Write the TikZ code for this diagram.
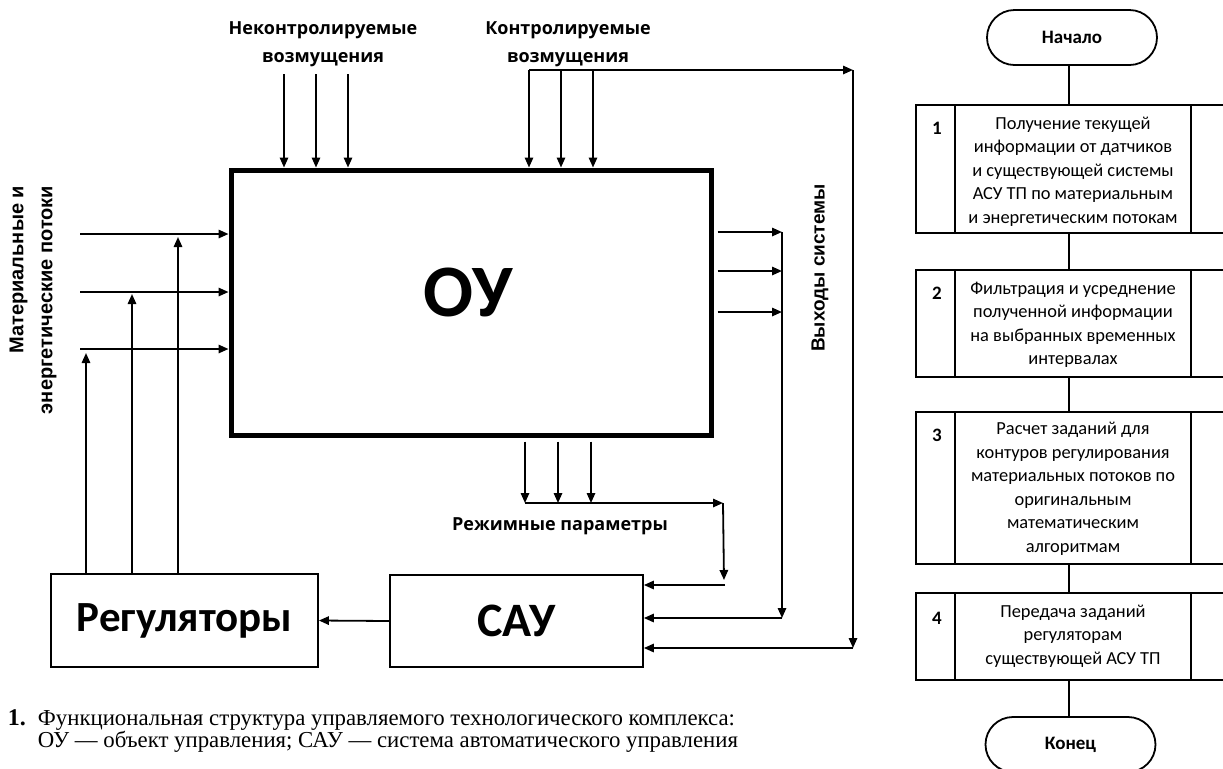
\documentclass[tikz,border=0pt]{standalone}
\usepackage{fontspec}
\setmainfont{Liberation Serif}
\newfontfamily\calf{Carlito}
\newfontfamily\osf{Open Sans}
\newfontfamily\arf{Liberation Sans}
\usetikzlibrary{arrows.meta,calc}
\begin{document}
\begin{tikzpicture}[x=0.5pt,y=-0.5pt,line width=0.9pt,
  arr/.style={-{Triangle[length=5pt,width=4.2pt]}},
  lbl/.style={font=\osf\bfseries\fontsize{9}{14}\selectfont, align=center, inner sep=0},
  oubox/.style={draw, line width=2.5pt, minimum width=240pt, minimum height=132.5pt, inner sep=0},
  blk/.style={draw, inner sep=0},
  term/.style={draw, rounded corners=13.75pt, minimum width=85pt, minimum height=27.5pt, inner sep=0, font=\calf\bfseries\fontsize{9.5}{11}\selectfont},
  fbox/.style={draw, minimum width=162pt, inner sep=0},
  ftext/.style={font=\calf\fontsize{9.2}{11.75}\selectfont, align=center, inner sep=0},
  num/.style={font=\calf\bfseries\fontsize{9.5}{11}\selectfont, inner sep=0}]
\clip (0,0) rectangle (1223,768);
\fill[white] (0,0) rectangle (1223,768);

% ---- main object ----
\node[oubox] (ou) at (471,302.5) {};
\node[font=\calf\bfseries\fontsize{37}{42}\selectfont, inner sep=0] (oulbl) at (468,292) {ОУ};
\node[blk, minimum width=126.5pt, minimum height=46pt, font=\calf\bfseries\fontsize{24}{28}\selectfont] (sau) at (516.5,621) {САУ};
\node[blk, minimum width=133.5pt, minimum height=46.5pt, font=\calf\bfseries\fontsize{21.5}{26}\selectfont] (reg) at (184.5,620.5) {Регуляторы};

% ---- labels ----
\node[lbl] (lnc) at (323,44) {Неконтролируемые\\возмущения};
\node[lbl] (lc) at (568,44) {Контролируемые\\возмущения};
\node[lbl] (lrp) at (560,526) {Режимные параметры};
\node[lbl, rotate=90, font=\arf\bfseries\fontsize{9.5}{12}\selectfont] (lvs) at (820,268) {Выходы системы};
\node[lbl, rotate=90, align=right, font=\arf\bfseries\fontsize{10}{14.5}\selectfont] (lmp) at (33,300) {Материальные и\\энергетические потоки};

% ---- uncontrolled disturbances ----
\foreach \x [count=\i] in {284,316,348} {
  \coordinate (nu\i) at (\x,74);
  \draw[arr] (nu\i) -- (nu\i |- ou.north);
}
% ---- controlled disturbances ----
\foreach \x [count=\i] in {529,561,593} {
  \coordinate (ku\i) at (\x,70);
  \draw[arr] (ku\i) -- (ku\i |- ou.north);
}
\coordinate (kr) at (853,70);
\coordinate (kd) at (853,648);
\draw[arr] (ku1) -- (kr);
\draw[arr] (kr) -- (kd);
\draw[arr] (kd) -- (kd -| sau.east);

% ---- system outputs ----
\foreach \y [count=\i] in {232,271,312} {
  \coordinate (vo\i) at (782,\y);
  \draw[arr] ($(ou.east |- vo\i)+(4,0)$) -- (vo\i);
}
\coordinate (vd) at (782,618);
\draw[arr] (vo1) -- (vd);
\draw[arr] (vd) -- (vd -| sau.east);

% ---- mode parameters ----
\foreach \x [count=\i] in {525,558,591} {
  \coordinate (rp\i) at (\x,503);
  \draw[arr] ($(rp\i |- ou.south)+(0,4)$) -- (rp\i);
}
\coordinate (rr) at (723,503);
\coordinate (rd) at (724,580);
\coordinate (rs) at (725,585);
\draw[arr] (rp1) -- (rr);
\draw[arr] (rr) -- (rd);
\draw[arr] (rs) -- (rs -| sau.east);

% ---- material and energy flows ----
\foreach \y [count=\i] in {234,292,349} {
  \coordinate (mi\i) at (80,\y);
  \draw[arr] (mi\i) -- (mi\i -| ou.west);
}
\foreach \x/\t [count=\i] in {86/353,132/294,178/237} {
  \coordinate (ra\i) at (\x,\t);
  \draw[arr] (ra\i |- reg.north) -- (ra\i);
}
\draw[arr] (sau.west) -- (reg.east);

% ---- flowchart ----
\node[term] (start) at (1072,37.5) {Начало};
\node[fbox, minimum height=64pt] (b1) at (1078,169) {};
\node[fbox, minimum height=53.5pt] (b2) at (1078,323.5) {};
\node[fbox, minimum height=76pt] (b3) at (1078,488) {};
\node[fbox, minimum height=43.5pt] (b4) at (1078,636.5) {};
\node[term] (end) at (1070.5,744.5) {Конец};
\coordinate (d1) at (955,0);
\coordinate (d2) at (1191,0);
\coordinate (fl) at (1069,0);
\foreach \b in {b1,b2,b3,b4} {
  \draw (\b.north -| d1) -- (\b.south -| d1);
  \draw (\b.north -| d2) -- (\b.south -| d2);
}
\draw (start.south -| fl) -- (b1.north -| fl);
\draw (b1.south -| fl) -- (b2.north -| fl);
\draw (b2.south -| fl) -- (b3.north -| fl);
\draw (b3.south -| fl) -- (b4.north -| fl);
\draw (b4.south -| fl) -- (end.north -| fl);

\node[num] (n1) at (937,128) {1};
\node[num] (n2) at (937,293) {2};
\node[num] (n3) at (937,435) {3};
\node[num] (n4) at (937,618) {4};
\node[ftext] (t1) at (1073,171.5) {Получение текущей\\информации от датчиков\\и существующей системы\\АСУ ТП по материальным\\и энергетическим потокам};
\node[ftext] (t2) at (1073,325) {Фильтрация и усреднение\\полученной информации\\на выбранных временных\\интервалах};
\node[ftext] (t3) at (1073,489) {Расчет заданий для\\контуров регулирования\\материальных потоков по\\оригинальным\\математическим\\алгоритмам};
\node[ftext] (t4) at (1073,636) {Передача заданий\\регуляторам\\существующей АСУ ТП};

% ---- caption ----
\node[anchor=base west, inner sep=0, font=\bfseries\fontsize{12}{11}\selectfont] (cn) at (7,725) {1.};
\node[anchor=base west, inner sep=0, font=\fontsize{11.4}{11}\selectfont] (ct1) at (37,725) {Функциональная структура управляемого технологического комплекса:};
\node[anchor=base west, inner sep=0, font=\fontsize{11.4}{11}\selectfont] (ct2) at (37,747) {ОУ — объект управления; САУ — система автоматического управления};
\end{tikzpicture}
\end{document}
